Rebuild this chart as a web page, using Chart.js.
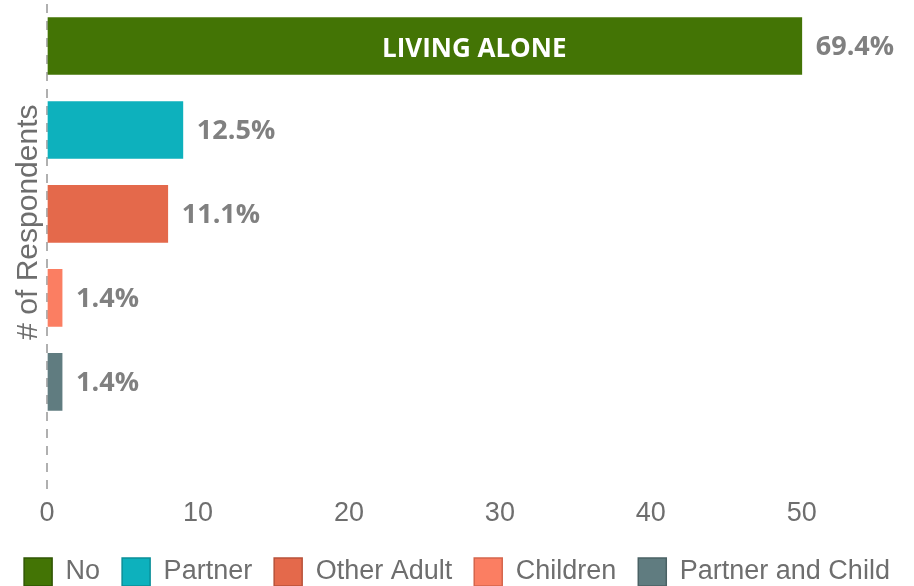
<!DOCTYPE html>
<html>
<head>
<meta charset="utf-8">
<script src="https://cdn.jsdelivr.net/npm/chart.js@4"></script>
<style>
  html, body { margin: 0; padding: 0; background: #ffffff; }
  #wrap { width: 914px; height: 586px; }
</style>
</head>
<body>
<div id="wrap"><canvas id="chart"></canvas></div>
<script>
// Living situation of respondents (counts per group)
const categories = ['No', 'Partner', 'Other Adult', 'Children', 'Partner and Child'];
const counts = [50, 9, 8, 1, 1];
const totalRespondents = 72; // percentages in the picture are out of 72
const fillColors = ['#437405', '#0db1bd', '#e4694b', '#fb7e62', '#607c80'];
const edgeColors = ['#2f5503', '#0a8e98', '#b8523a', '#d5654c', '#4a6164'];
const xTickValues = [0, 10, 20, 30, 40, 50];
const insideText = 'LIVING ALONE';
const insideAt = 28.3; // x value where the caption sits inside the first bar

const percentLabels = counts.map((c) => (c / totalRespondents * 100).toFixed(1) + '%');

const GRAY = '#6e6e6e';

// draws the percentage after each bar and the caption inside the biggest one
const barLabels = {
  id: 'barLabels',
  afterDatasetsDraw(chart) {
    const ctx = chart.ctx;
    ctx.save();
    ctx.textBaseline = 'middle';
    chart.data.datasets.forEach((ds, i) => {
      const el = chart.getDatasetMeta(i).data[0];
      if (!el) return;
      ctx.font = 'bold 27px "Open Sans"';
      ctx.fillStyle = '#808080';
      ctx.textAlign = 'left';
      ctx.fillText(percentLabels[i], el.x + 14, el.y + 1);
    });
    const first = chart.getDatasetMeta(0).data[0];
    ctx.font = 'bold 26px "Open Sans"';
    ctx.fillStyle = '#ffffff';
    ctx.textAlign = 'center';
    ctx.fillText(insideText, chart.scales.x.getPixelForValue(insideAt), first.y + 4);
    ctx.restore();
  },
};

const datasets = categories.map((name, i) => ({
  label: name,
  data: [{ x: counts[i], y: i }],
  backgroundColor: fillColors[i],
  borderColor: fillColors[i],
  borderWidth: 0,
  barThickness: 57,
}));

new Chart(document.getElementById('chart'), {
  type: 'bar',
  data: { datasets },
  plugins: [barLabels],
  options: {
    indexAxis: 'y',
    responsive: true,
    maintainAspectRatio: false,
    animation: false,
    layout: { padding: { top: 4, right: 2, left: 2, bottom: -10 } },
    scales: {
      x: {
        type: 'linear',
        min: 0,
        max: 57.3,
        stacked: true,
        afterBuildTicks: (scale) => {
          scale.ticks = xTickValues.map((v) => ({ value: v }));
        },
        ticks: {
          color: GRAY,
          font: { family: '"Liberation Sans", Arial', size: 27, lineHeight: 1.4 },
          padding: 4,
        },
        // only the zero line is shown, dashed
        grid: {
          display: true,
          drawTicks: false,
          lineWidth: 2,
          color: (c) => (c.tick && c.tick.value === 0 ? '#b0b0b0' : 'rgba(0,0,0,0)'),
        },
        border: { display: false, dash: [9, 8] },
      },
      y: {
        type: 'linear',
        reverse: true,
        offset: false,
        min: -0.5,
        max: 5.29,
        stacked: true,
        ticks: { display: false },
        grid: { display: false, drawTicks: false, tickLength: 0 },
        border: { display: false },
        title: {
          display: true,
          text: '      # of Respondents',
          color: GRAY,
          font: { family: '"Liberation Sans", Arial', size: 30 },
          padding: { top: 9, bottom: 0 },
        },
      },
    },
    plugins: {
      tooltip: { enabled: false },
      legend: {
        display: true,
        position: 'bottom',
        labels: {
          color: GRAY,
          font: { family: '"Liberation Sans", Arial', size: 27 },
          boxWidth: 28,
          boxHeight: 28,
          padding: 22,
          generateLabels: (chart) => {
            const items = Chart.defaults.plugins.legend.labels.generateLabels(chart);
            items.forEach((it, i) => {
              it.strokeStyle = edgeColors[i];
              it.lineWidth = 1.5;
            });
            return items;
          },
        },
      },
    },
  },
});
</script>
</body>
</html>
